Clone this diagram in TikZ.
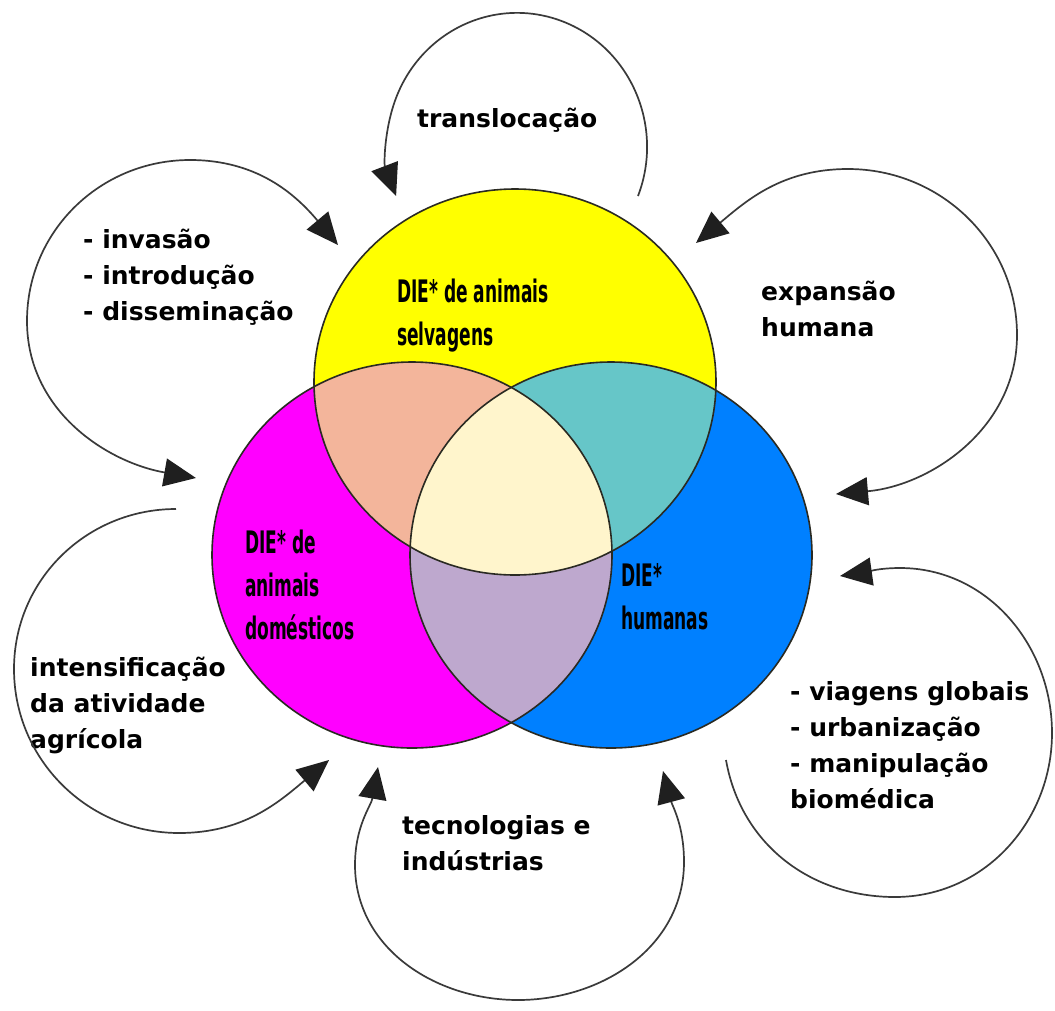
\documentclass[tikz,border=0pt]{standalone}
\usepackage{fontspec}
\setmainfont{DejaVu Sans}
\usetikzlibrary{arrows.meta}
\definecolor{cYel}{HTML}{FFFF00}
\definecolor{cMag}{HTML}{FF00FF}
\definecolor{cBlu}{HTML}{0080FF}
\definecolor{cSal}{HTML}{F3B59B}
\definecolor{cTea}{HTML}{66C6C8}
\definecolor{cLav}{HTML}{BEA8CE}
\definecolor{cCre}{HTML}{FFF5CC}
\definecolor{cLine}{HTML}{2A2A22}
\definecolor{cArc}{HTML}{3A3A3A}
\newcommand{\condtxt}[1]{\scalebox{0.55}[1]{#1}}
\def\pathYel{(515,-382) ellipse [x radius=201, y radius=193]}
\def\pathMag{(412,-555) ellipse [x radius=200, y radius=193]}
\def\pathBlu{(611,-555) ellipse [x radius=201, y radius=193]}
\begin{document}
\begin{tikzpicture}[x=1pt,y=1pt,
  outer/.style={font=\fontsize{25}{36}\selectfont\bfseries, align=left, anchor=base west, inner sep=0pt, text=black},
  innerlbl/.style={font=\fontsize{31}{43}\selectfont\bfseries, align=left, anchor=base west, inner sep=0pt, text=black},
  arrowline/.style={draw=cArc, line width=1.7pt},
  arrowone/.style={arrowline, -{Triangle[length=32pt,width=28pt,color=black!88]}},
  arrowtwo/.style={arrowline, {Triangle[length=32pt,width=28pt,color=black!88]}-{Triangle[length=32pt,width=28pt,color=black!88]}}
]
\useasboundingbox (0,0) rectangle (1055,-1010);
\fill[white] (0,0) rectangle (1055,-1010);

% base fills
\fill[cYel] \pathYel;
\fill[cMag] \pathMag;
\fill[cBlu] \pathBlu;
% pairwise intersections
\begin{scope}\clip \pathYel; \fill[cSal] \pathMag; \end{scope}
\begin{scope}\clip \pathYel; \fill[cTea] \pathBlu; \end{scope}
\begin{scope}\clip \pathMag; \fill[cLav] \pathBlu; \end{scope}
\begin{scope}\clip \pathYel; \clip \pathMag; \fill[cCre] \pathBlu; \end{scope}
% outlines
\draw[cLine, line width=1.6pt] \pathYel;
\draw[cLine, line width=1.6pt] \pathMag;
\draw[cLine, line width=1.6pt] \pathBlu;

% inner labels (anchor = baseline of last line)
\node[innerlbl] (lblYel) at (397,-345) {\condtxt{DIE* de animais}\\\condtxt{selvagens}};
\node[innerlbl] (lblMag) at (245,-639) {\condtxt{DIE* de}\\\condtxt{animais}\\\condtxt{domésticos}};
\node[innerlbl] (lblBlu) at (621,-629) {\condtxt{DIE*}\\\condtxt{humanas}};

% outer labels (anchor = baseline of last line)
\node[outer] (tTrans) at (417,-127) {translocação};
\node[outer] (tInv) at (83,-320) {- invasão\\- introdução\\- disseminação};
\node[outer] (tExp) at (761,-336) {expansão\\humana};
\node[outer] (tInt) at (30,-748) {intensificação\\da atividade\\agrícola};
\node[outer] (tVia) at (790,-808) {- viagens globais\\- urbanização\\- manipulação\\biomédica};
\node[outer] (tTec) at (402,-870) {tecnologias e\\indústrias};

% arc coordinates
\coordinate (a0) at (638,-196);
\coordinate (b0) at (338,-245);
\coordinate (b1) at (196,-478);
\coordinate (c0) at (696,-243);
\coordinate (c1) at (836,-494);
\coordinate (d0) at (726,-760);
\coordinate (d1) at (840,-576);
\coordinate (e0) at (378,-767);
\coordinate (e1) at (663,-771);
\coordinate (f0) at (176,-509);
\coordinate (f1) at (329,-760);

% arcs
\draw[arrowone] (a0) arc[start angle=-21.5, end angle=201.5, x radius=130, y radius=134];
\draw[arrowtwo] (b0) to[out=130,in=0] (190,-160) to[out=180,in=90] (27,-321) to[out=-90,in=170] (b1);
\draw[arrowtwo] (c0) to[out=40,in=180] (848,-169) to[out=0,in=90] (1017,-335) to[out=-90,in=5] (c1);
\draw[arrowone] (d0) to[out=-80,in=180] (895,-897) to[out=0,in=-90] (1052,-733) to[out=90,in=0] (900,-568) to[out=180,in=8] (d1);
\draw[arrowtwo] (e0) to[out=-100,in=90] (355,-865) to[out=-90,in=180] (518,-1000) to[out=0,in=-90] (684,-862) to[out=90,in=-75] (e1);
\draw[arrowone] (f0) to[out=180,in=90] (14,-669) to[out=-90,in=180] (179,-833) to[out=0,in=-140] (f1);
\end{tikzpicture}
\end{document}
